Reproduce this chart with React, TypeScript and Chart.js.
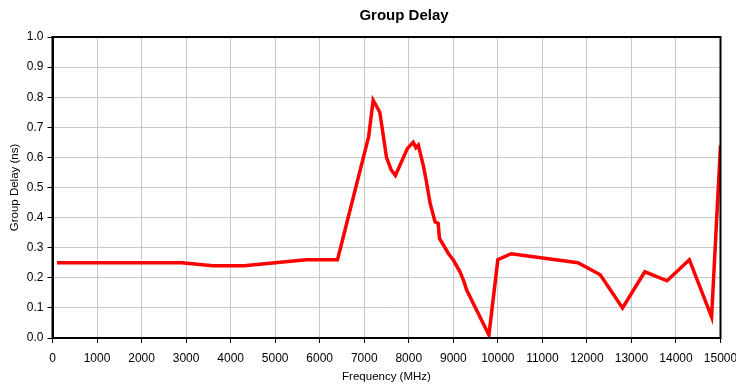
import React, { useEffect, useRef } from "react";
import { Chart, registerables } from "chart.js";

Chart.register(...registerables);

const frequencies = [
  100, 2900, 3600, 4300, 5000, 5700, 6400, 7100, 7200, 7350, 7500, 7600, 7700,
  7970, 8100, 8160, 8215, 8330, 8390, 8480, 8590, 8660, 8690, 8890, 9000, 9150,
  9240, 9300, 9800, 10000, 10300, 11800, 12300, 12800, 13300, 13800, 14300,
  14800, 15000,
];
const groupDelay = [
  0.25, 0.25, 0.24, 0.24, 0.25, 0.26, 0.26, 0.67, 0.79, 0.75, 0.6, 0.56, 0.54,
  0.63, 0.65, 0.632, 0.641, 0.57, 0.525, 0.447, 0.386, 0.381, 0.331, 0.281,
  0.259, 0.22, 0.187, 0.159, 0.01, 0.26, 0.28, 0.25, 0.21, 0.1, 0.22, 0.19,
  0.26, 0.07, 0.64,
];
const titleText = "Group Delay";
const xTitle = "Frequency (MHz)";
const yTitle = "Group Delay (ns)";

const FONT = "'Liberation Sans', Arial, sans-serif";

export default function App() {
  const ref = useRef<HTMLCanvasElement>(null);
  useEffect(() => {
    if (!ref.current) return;
    const frame = {
      id: "frame",
      afterDatasetsDraw(chart: any) {
        const { ctx, chartArea: a } = chart;
        ctx.save();
        ctx.strokeStyle = "#000";
        ctx.lineWidth = 2;
        ctx.strokeRect(a.left, a.top, a.right - a.left, a.bottom - a.top);
        ctx.restore();
      },
      afterDraw(chart: any) {
        const { ctx } = chart;
        ctx.save();
        ctx.fillStyle = "#000";
        ctx.font = `bold 15px ${FONT}`;
        ctx.textAlign = "center";
        ctx.textBaseline = "alphabetic";
        ctx.fillText(titleText, 404, 20);
        ctx.restore();
      },
    };
    const chart = new Chart(ref.current, {
      type: "line",
      data: {
        datasets: [
          {
            data: frequencies.map((f, i) => ({ x: f, y: groupDelay[i] })),
            borderColor: "#ff0000",
            borderWidth: 3.5,
            pointRadius: 0,
            tension: 0,
            fill: false,
          },
        ],
      },
      options: {
        responsive: false,
        animation: false,
        layout: { padding: { left: 4, right: 15.5, top: 37, bottom: 0 } },
        plugins: {
          legend: { display: false },
          tooltip: { enabled: false },
          title: { display: false },
        },
        scales: {
          x: {
            type: "linear",
            min: 0,
            max: 15000,
            ticks: {
              stepSize: 1000,
              autoSkip: false,
              maxRotation: 0,
              color: "#000",
              padding: 8,
              font: { family: FONT, size: 12 },
              callback: (v: any) => String(v),
            },
            grid: {
              color: "#c8c8c8",
              lineWidth: 1,
              tickColor: "#000",
              tickLength: 5,
            },
            border: { color: "#000", width: 2 },
            title: {
              display: true,
              text: xTitle,
              color: "#000",
              font: { family: FONT, size: 11.5, lineHeight: 1.2 },
              padding: { top: 2, bottom: 4 },
            },
            afterFit: (s: any) => {
              s.height = 50;
              s.paddingLeft = 0;
              s.paddingRight = 0;
            },
          },
          y: {
            min: 0,
            max: 1,
            ticks: {
              stepSize: 0.1,
              color: "#000",
              padding: 4,
              font: { family: FONT, size: 12 },
              callback: (v: any) => Number(v).toFixed(1),
            },
            grid: {
              color: "#c8c8c8",
              lineWidth: 1,
              tickColor: "#000",
              tickLength: 5,
            },
            border: { color: "#000", width: 2 },
            title: {
              display: true,
              text: yTitle,
              color: "#000",
              font: { family: FONT, size: 11.5, lineHeight: 1.2 },
              padding: { top: 4, bottom: 4 },
            },
            afterFit: (s: any) => {
              s.width = 48.5;
              s.paddingTop = 0;
              s.paddingBottom = 0;
            },
          },
        },
      },
      plugins: [frame],
    });
    return () => chart.destroy();
  }, []);
  return (
    <div style={{ position: "fixed", left: 0, top: 0, width: 736, height: 388, background: "#fff" }}>
      <canvas ref={ref} width={736} height={388} />
    </div>
  );
}
